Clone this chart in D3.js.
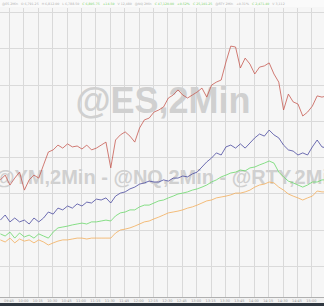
<!DOCTYPE html>
<html>
<head>
<meta charset="utf-8">
<script src="https://cdn.jsdelivr.net/npm/d3@7"></script>
<style>
  body { margin: 0; background: #fff; }
  svg { display: block; }
</style>
</head>
<body>
<svg id="chart" width="324" height="306"></svg>
<script>

// === Data === //

// 5-minute samples (minutes after midnight), values are moves from the open in index points
var startMinute = 576;
var stepMinutes = 5;

var es = [28.7, 30.3, 27, 29.3, 31.3, 25.3, 28.7, 30.3, 29.3, 33.7,
	38, 38.7, 40.3, 39.3, 40.7, 39.7, 40, 39, 40.3, 38.7,
	39.3, 40.3, 41.3, 32.7, 42, 43.7, 44.7, 43.3, 41.3, 46,
	48.7, 49.3, 51.3, 52, 53, 56, 57, 58.7, 57, 56,
	57, 58, 59.3, 56.3, 60.3, 61.3, 62, 68, 73.3, 73,
	66, 69.3, 67.3, 64, 66.3, 66.7, 67.7, 64, 61.3, 52,
	57.3, 54.7, 54, 50, 51.3, 53.3, 56.7, 56.3, 56.7];

var nq = [15.3, 17, 14.7, 16, 14.7, 15.3, 14, 16, 14.7, 16,
	18, 17.3, 19.3, 18.7, 20, 19.3, 20.7, 20, 21.3, 21,
	22.3, 22, 22.7, 21, 23.3, 24.3, 24.7, 25.7, 26.3, 27.3,
	27.7, 28.3, 28, 28, 28.7, 28.3, 29.3, 29.3, 30, 29.7,
	30.7, 31.3, 33, 34.7, 36, 37.7, 37, 39.7, 40.3, 39.3,
	40.7, 39.3, 41, 42.7, 44, 43.3, 45.3, 43.7, 42.7, 40.3,
	38.7, 38.3, 37, 37.7, 37, 39.7, 42, 39.7, 39.3];

var rty = [10.7, 10, 11.3, 9.3, 11, 9.7, 10.3, 9.3, 10.7, 10,
	9.3, 11.3, 12.7, 13, 13.3, 13.7, 14, 14.3, 14, 14.7,
	14.7, 15, 15.3, 15, 16.7, 17.7, 18, 18.7, 18.7, 19.7,
	20.3, 20.3, 21, 21.7, 22, 22.7, 23.3, 24, 24.3, 24.7,
	25.3, 25.7, 26.3, 27, 28, 28.7, 29.7, 30.3, 31, 31.3,
	32, 31.7, 32.7, 33, 33.7, 34.3, 35, 34.3, 31.3, 29.7,
	28.3, 27.7, 27, 26.3, 27, 28, 28, 28.7, 28.7];

var ym = [8.7, 8, 9.3, 7.7, 9, 8.3, 8.7, 7.7, 8.7, 8,
	7, 7.7, 8.3, 8.7, 8.7, 9, 9.3, 9.3, 9, 9.3,
	9.3, 9.3, 9.3, 9.3, 11, 12, 12.3, 12.7, 13.3, 14,
	14.7, 15, 15.7, 16.3, 17, 17.7, 18, 18.3, 18.7, 19.3,
	19.7, 20.3, 21, 21.7, 22, 22.7, 23, 23.3, 23.7, 24.3,
	24.3, 24.7, 25.3, 26.3, 27, 27.3, 28, 27.7, 26.3, 25.3,
	24, 23.3, 22.7, 22, 22.7, 23.3, 25, 24.7, 24.7];

var seriesNames = ['es', 'nq', 'rty', 'ym'];
var seriesColors = ['#c65a52', '#4a4aa0', '#6ad86a', '#f2ad5a'];

var headerLabels = [
	['@ES 2Min', '#b0b0b0'], ['O 6,791.25', '#b0b0b0'], ['H 6,812.00', '#b0b0b0'],
	['L 6,788.50', '#b0b0b0'], ['C 6,805.75', '#7bd36b'], ['+14.50', '#7bd36b'],
	['V 12,480', '#b0b0b0'], ['@NQ 2Min', '#b0b0b0'],
	['C 47,120.00', '#7bd36b'], ['+0.52%', '#7bd36b'], ['C 25,101.25', '#7bd36b'],
	['@RTY 2Min', '#b0b0b0'], ['+0.31%', '#b0b0b0'],
	['C 2,471.40', '#7bd36b'], ['V 3,112', '#b0b0b0']
];


// === Layout === //

var width = 324, height = 306;
var plotBottom = 297;

var svg = d3.select('#chart');

var x = d3.scaleLinear()
	.domain([575.625, 913.125])
	.range([0, width]);

var y = d3.scaleLinear()
	.domain([-31 / 3, 266 / 3])
	.range([plotBottom, 0]);

var times = es.map(function(d, i) { return startMinute + i * stepMinutes; });

function fmtTime(m) {
	var h = Math.floor(m / 60), mm = m % 60;
	return (h < 10 ? '0' : '') + h + ':' + (mm < 10 ? '0' : '') + mm;
}


// === Background and grid === //

svg.append('rect')
	.attr('width', width).attr('height', plotBottom)
	.attr('fill', '#f6f6f6');

var xTicks = d3.range(585, 901, 15);

svg.append('g').selectAll('line')
	.data(xTicks)
	.enter().append('line')
	.attr('x1', function(d) { return Math.round(x(d)) + 0.5; })
	.attr('x2', function(d) { return Math.round(x(d)) + 0.5; })
	.attr('y1', 8).attr('y2', plotBottom)
	.attr('stroke', '#d9d9d9').attr('stroke-width', 1);

svg.append('g').selectAll('line')
	.data(d3.range(0, 90, 12.1))
	.enter().append('line')
	.attr('x1', 0).attr('x2', width)
	.attr('y1', function(d) { return Math.round(y(d)) + 0.5; })
	.attr('y2', function(d) { return Math.round(y(d)) + 0.5; })
	.attr('stroke', '#dadada').attr('stroke-width', 1);


// === Watermarks === //

svg.append('text')
	.attr('x', 163).attr('y', 113)
	.attr('text-anchor', 'middle')
	.style('font-family', 'Liberation Sans, Arial, sans-serif')
	.style('font-weight', 'bold')
	.style('font-size', '36px')
	.attr('fill', '#d0d0d0')
	.text('@ES,2Min');

svg.append('text')
	.attr('x', -5).attr('y', 184)
	.style('font-family', 'Liberation Sans, Arial, sans-serif')
	.style('font-weight', 'bold')
	.style('font-size', '20px')
	.attr('fill', '#d0d0d0')
	.text('@YM,2Min - @NQ,2Min - @RTY,2Min');


// === Lines === //

var line = d3.line()
	.x(function(d) { return x(d[0]); })
	.y(function(d) { return y(d[1]); });

[es, nq, rty, ym].forEach(function(vals, i) {
	svg.append('path')
		.datum(vals.map(function(v, j) { return [times[j], v]; }))
		.attr('class', 'series ' + seriesNames[i])
		.attr('fill', 'none')
		.attr('stroke', seriesColors[i])
		.attr('stroke-width', 0.8)
		.attr('stroke-linejoin', 'round')
		.attr('d', line);
});


// === Header strip === //

svg.append('rect')
	.attr('width', width).attr('height', 7)
	.attr('fill', '#fafafa');

var hx = 2;
headerLabels.forEach(function(lab) {
	var t = svg.append('text')
		.attr('x', hx).attr('y', 4.5)
		.style('font-family', 'DejaVu Sans, sans-serif')
		.style('font-size', '3.2px')
		.attr('fill', lab[1])
		.text(lab[0]);
	hx += t.node().getComputedTextLength() + 3;
});


// === X axis === //

svg.append('line')
	.attr('x1', 0).attr('x2', width)
	.attr('y1', plotBottom + 0.5).attr('y2', plotBottom + 0.5)
	.attr('stroke', '#b0b0b0');

svg.append('rect')
	.attr('y', plotBottom + 1).attr('width', width).attr('height', 5)
	.attr('fill', '#f2f2f2');

svg.append('g').selectAll('text')
	.data(xTicks)
	.enter().append('text')
	.attr('x', function(d) { return x(d); })
	.attr('y', plotBottom + 4.5)
	.attr('text-anchor', 'middle')
	.style('font-family', 'DejaVu Sans, sans-serif')
	.style('font-size', '3.5px')
	.attr('fill', '#9a9a9a')
	.text(fmtTime);

svg.append('rect')
	.attr('y', 303).attr('width', width).attr('height', 3)
	.attr('fill', '#2f3740');

</script>
</body>
</html>
